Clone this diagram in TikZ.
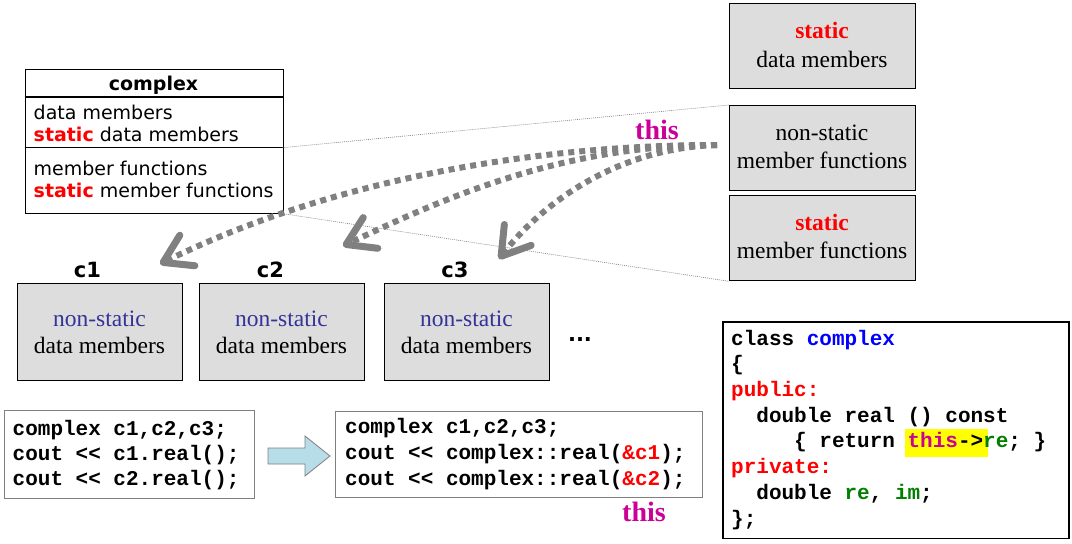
\documentclass[tikz,border=0pt]{standalone}
\usepackage{fontspec}
\setmainfont{Liberation Serif}
\newfontfamily\vsans{DejaVu Sans}
\newfontfamily\cmono{Liberation Mono}
\usetikzlibrary{arrows.meta}
\definecolor{boxgray}{HTML}{DDDDDD}
\definecolor{arrgray}{HTML}{808080}
\definecolor{thiscol}{HTML}{CC0099}
\definecolor{nsblue}{HTML}{333399}
\definecolor{codered}{HTML}{FF0000}
\definecolor{codeblue}{HTML}{0000FF}
\definecolor{codegreen}{HTML}{008000}
\definecolor{hiyellow}{HTML}{FFFF00}
\definecolor{blockfill}{HTML}{B7DDE8}
\newcommand\tmsz{\fontsize{23.5pt}{29pt}\selectfont}
\newcommand\sfsz{\vsans\fontsize{19pt}{22pt}\selectfont}
\newcommand\lblsz{\vsans\fontsize{21pt}{24pt}\selectfont\bfseries}
\newcommand\codesz{\cmono\bfseries\fontsize{21pt}{25.7pt}\selectfont}
\newcommand\thissz{\fontsize{28pt}{30pt}\selectfont\bfseries\color{thiscol}}
\begin{document}
\begin{tikzpicture}[x=1pt,y=-1pt,
  graybox/.style={draw=black, fill=boxgray, line width=1.3pt, anchor=north west, inner sep=0pt},
  rbox/.style={graybox, minimum width=186, minimum height=85},
  cbox/.style={graybox, minimum width=165, minimum height=97},
  txt/.style={inner sep=0pt, anchor=base},
  ltxt/.style={inner sep=0pt, anchor=base west},
  serif/.style={txt, font=\tmsz},
  sflab/.style={ltxt, font=\sfsz},
  codeline/.style={ltxt, font=\codesz},
  thinlink/.style={draw=gray, line width=0.6pt, dash pattern=on 1pt off 1pt},
  thisarrow/.style={draw=arrgray, line width=6pt, dash pattern=on 6pt off 5pt,
     -{Straight Barb[length=27pt,width=34pt,line width=7pt,round]}},
  codebox/.style={draw=arrgray, line width=1.2pt, anchor=north west, inner sep=0pt},
]
\useasboundingbox (0,0) rectangle (1072,544);

% ---------- class overview box ----------
\node[draw=black, line width=1.3pt, anchor=north west, inner sep=0pt,
      minimum width=258, minimum height=144] (cx) at (24.5,68.5) {};
\draw[line width=1.3pt] (24.5,97) -- (282.5,97);
\draw[line width=1.3pt] (24.5,147.7) coordinate (dvw) -- (282.5,147.7) coordinate (dve);
\node[txt, font=\sfsz\bfseries] (cxt) at (153.5,90.7) {complex};
\node[sflab] (cxa) at (33.5,119) {data members};
\node[sflab] (cxb) at (33.5,141) {\textcolor{codered}{\bfseries static} data members};
\node[sflab] (cxc) at (33.5,175) {member functions};
\node[sflab] (cxd) at (33.5,197.7) {\textcolor{codered}{\bfseries static} member functions};

% ---------- right boxes ----------
\node[rbox] (sdm) at (729,3) {};
\node[serif, font=\tmsz\bfseries, text=codered] (sdm1) at (822,38) {static};
\node[serif] (sdm2) at (822,67) {data members};

\node[rbox] (nmf) at (729,105) {};
\node[serif] (nmf1) at (822,140) {non-static};
\node[serif] (nmf2) at (822,168) {member functions};

\node[rbox] (smf) at (729,195) {};
\node[serif, font=\tmsz\bfseries, text=codered] (smf1) at (822,230) {static};
\node[serif] (smf2) at (822,258) {member functions};

% thin dotted links
\draw[thinlink] (dve) -- (nmf.north west);
\draw[thinlink] (cx.south east) -- (smf.south west);

% ---------- objects ----------
\node[cbox] (o1) at (17,283) {};
\node[cbox] (o2) at (199,283) {};
\node[cbox] (o3) at (384,283) {};
\node[serif, text=nsblue] (o1a) at (99.5,326.7) {non-static};
\node[serif] (o1b) at (99.5,353) {data members};
\node[serif, text=nsblue] (o2a) at (281.5,326.7) {non-static};
\node[serif] (o2b) at (281.5,353) {data members};
\node[serif, text=nsblue] (o3a) at (466.5,326.7) {non-static};
\node[serif] (o3b) at (466.5,353) {data members};
\node[txt, font=\lblsz] (c1) at (87.5,277.5) {c1};
\node[txt, font=\lblsz] (c2) at (270.5,277.5) {c2};
\node[txt, font=\lblsz] (c3) at (455,277.5) {c3};
\node[txt, font=\lblsz] (dots) at (580,341) {...};

% ---------- this arrows ----------
\coordinate (src) at (717,145);
\coordinate (t1) at (160,264);
\coordinate (t2) at (343,246);
\coordinate (t3) at (499,259);
\draw[thisarrow] (src) .. controls (520,145) and (320,185) .. (t1);
\draw[thisarrow] (src) .. controls (560,145) and (440,200) .. (t2);
\draw[thisarrow] (src) .. controls (620,148) and (545,200) .. (t3);
\node[txt, font=\thissz] (this1) at (657,139.3) {this};

% ---------- code boxes ----------
\node[codebox, minimum width=249.5, minimum height=88] (cb1) at (4,410) {};
\node[codeline] (cb1a) at (12.5,435) {complex c1,c2,c3;};
\node[codeline] (cb1b) at (12.5,460) {cout <{}< c1.real();};
\node[codeline] (cb1c) at (12.5,485) {cout <{}< c2.real();};

\draw[draw=arrgray, line width=0.8pt, fill=blockfill]
  (268,448) -- (305,448) -- (305,436) -- (330,456) -- (305,476) -- (305,464) -- (268,464) -- cycle;

\node[codebox, minimum width=366.5, minimum height=85.5] (cb2) at (335,411) {};
\node[codeline] (cb2a) at (345,433.5) {complex c1,c2,c3;};
\node[codeline] (cb2b) at (345,459) {cout <{}< complex::real(\textcolor{codered}{\&c1});};
\node[codeline] (cb2c) at (345,485) {cout <{}< complex::real(\textcolor{codered}{\&c2});};
\node[txt, font=\thissz] (this2) at (644,521.7) {this};

% ---------- class definition ----------
\node[draw=black, line width=1.3pt, anchor=north west, inner sep=0pt,
      minimum width=346, minimum height=216.5] (cls) at (722.3,321.3) {};
\fill[hiyellow] (905,429) rectangle (988,457);
\node[codeline] (k1) at (731,345) {class \textcolor{codeblue}{complex}};
\node[codeline] (k2) at (731,370.7) {\{};
\node[codeline] (k3) at (731,396.4) {\textcolor{codered}{public:}};
\node[codeline] (k4) at (731,422.1) {\ \ double real () const};
\node[codeline] (k5) at (731,447.8) {\ \ \ \ \ \{ return \textcolor{thiscol}{this}->\textcolor{codegreen}{re}; \}};
\node[codeline] (k6) at (731,473.5) {\textcolor{codered}{private:}};
\node[codeline] (k7) at (731,499.2) {\ \ double \textcolor{codegreen}{re}, \textcolor{codegreen}{im};};
\node[codeline] (k8) at (731,525) {\};};
\end{tikzpicture}
\end{document}
